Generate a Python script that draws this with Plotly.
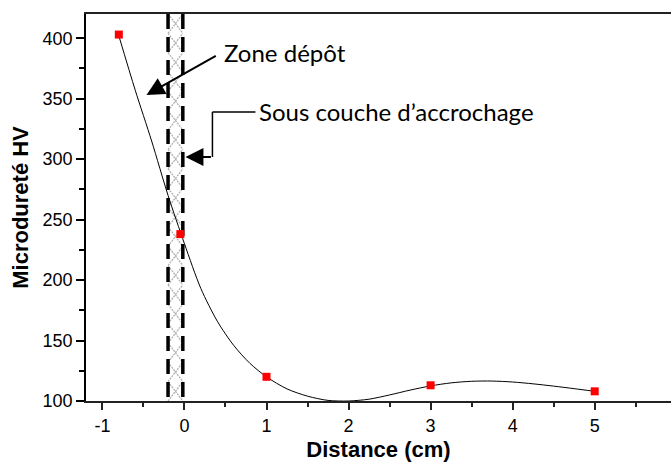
import plotly.graph_objects as go

# Measured points
dist = [-0.8, -0.05, 1, 3, 5]
hv = [403, 238, 120, 113, 108]

# Fitted curve
curve_x = [-0.8, -0.6, -0.4, -0.2, 0.0, 0.2, 0.4, 0.6, 0.8, 1.0, 1.25, 1.5, 1.75, 2.0,
           2.25, 2.5, 2.75, 3.0, 3.25, 3.5, 3.75, 4.0, 4.25, 4.5, 4.75, 5.0]
curve_y = [402, 357, 315, 270, 230, 193, 166, 146, 131, 120, 110, 104, 100.5, 100,
           101.5, 105, 109, 112.5, 115, 116.3, 116.5, 115.7, 114.2, 112.3, 110.2, 108]

# Interlayer band (x limits)
band_x = [-0.2, -0.02]

x_ticks = [-1, 0, 1, 2, 3, 4, 5]
x_ticktext = ["-1", "0", "1", "2", "3", "4", "5"]
y_ticks = [100, 150, 200, 250, 300, 350, 400]
x_range = [-1.2, 5.93]
y_range = [100, 420]

# cross-hatch texture of the band (decoration, period in data units)
hatch_period = 16.0
hx, hy = [], []
y0 = y_range[1]
while y0 > y_range[0]:
    y1 = max(y0 - hatch_period, y_range[0])
    hx += [band_x[0], band_x[1], None, band_x[0], band_x[1], None]
    hy += [y0, y1, None, y1, y0, None]
    y0 -= hatch_period

fig = go.Figure()

fig.add_trace(go.Scatter(x=hx, y=hy, mode="lines",
                         line=dict(color="#b0b0b0", width=1.3, dash="2px,1px"),
                         hoverinfo="skip", showlegend=False))

for bx in band_x:
    fig.add_trace(go.Scatter(
        x=[bx, bx], y=[y_range[1], y_range[0]], mode="lines",
        line=dict(color="black", width=3.5, dash="15px,8px"),
        hoverinfo="skip", showlegend=False))

fig.add_trace(go.Scatter(x=curve_x, y=curve_y, mode="lines",
                         line=dict(color="black", width=1, shape="spline", smoothing=0.8),
                         showlegend=False))
fig.add_trace(go.Scatter(x=dist, y=hv, mode="markers",
                         marker=dict(symbol="square", size=8, color="#ff0000"),
                         showlegend=False))

ann_font = dict(family="Lato, Carlito, sans-serif", size=24, color="black")

# Zone dépôt
fig.add_annotation(x=0.46, y=388, xref="x", yref="y", text="Zone dépôt",
                   showarrow=False, xanchor="left", yanchor="middle", font=ann_font)
fig.add_annotation(x=-0.463, y=353, ax=0.40, ay=386, xref="x", yref="y",
                   axref="x", ayref="y", text="", showarrow=True,
                   arrowhead=2, arrowsize=1.8, arrowwidth=2, arrowcolor="black")

# Sous couche d'accrochage
fig.add_annotation(x=0.878, y=339, xref="x", yref="y", text="Sous couche d’accrochage",
                   showarrow=False, xanchor="left", yanchor="middle", font=ann_font)
fig.add_shape(type="line", x0=0.341, x1=0.865, y0=339, y1=339, xref="x", yref="y",
              line=dict(color="black", width=1.5))
fig.add_shape(type="line", x0=0.341, x1=0.341, y0=339, y1=301.8, xref="x", yref="y",
              line=dict(color="black", width=1.5))
fig.add_annotation(x=0.012, y=301.8, ax=0.341, ay=301.8, xref="x", yref="y",
                   axref="x", ayref="y", text="", showarrow=True,
                   arrowhead=2, arrowsize=1.8, arrowwidth=2, arrowcolor="black")

tick_font = dict(family="Liberation Sans, Arial, sans-serif", size=18, color="black")
title_font = dict(family="Liberation Sans, Arial, sans-serif", size=22, color="black")

fig.update_layout(
    width=671, height=462,
    margin=dict(l=86, r=0, t=14, b=61),
    paper_bgcolor="white", plot_bgcolor="white",
    xaxis=dict(range=x_range, tickvals=x_ticks, ticktext=x_ticktext, ticks="outside",
               ticklen=7, tickwidth=1.5,
               tickcolor="#222", showline=True, linecolor="#222", linewidth=2, mirror=True,
               showgrid=False, zeroline=False, tickfont=tick_font, automargin=False,
               minor=dict(dtick=0.5, tick0=0, ticks="outside", ticklen=4, tickwidth=1.5,
                          tickcolor="#222", showgrid=False),
               title=dict(text="<b>Distance (cm)</b>", font=title_font, standoff=8)),
    yaxis=dict(range=y_range, tickvals=y_ticks, ticks="outside", ticklen=8, tickwidth=1.5,
               tickcolor="black", showline=True, linecolor="black", linewidth=1.5,
               showgrid=False, zeroline=False, tickfont=tick_font, automargin=False,
               minor=dict(dtick=25, tick0=0, ticks="outside", ticklen=5, tickwidth=1.5,
                          tickcolor="black", showgrid=False),
               title=dict(text="<b>Microdureté HV</b>", font=title_font, standoff=8)),
)

fig.write_html("out.html")
